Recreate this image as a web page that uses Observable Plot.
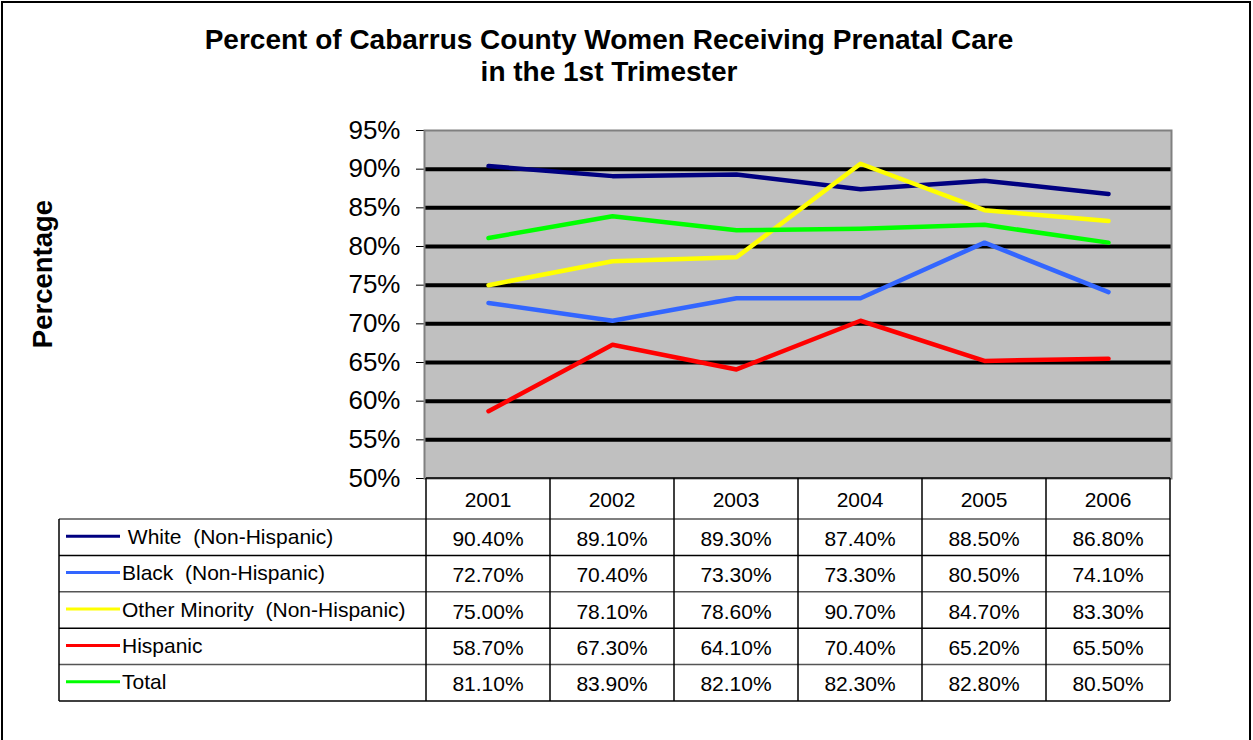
<!DOCTYPE html>
<html><head><meta charset="utf-8">
<script src="https://cdn.jsdelivr.net/npm/d3@7"></script>
<script src="https://cdn.jsdelivr.net/npm/@observablehq/plot@0.6"></script>
<style>
body{margin:0;background:#fff;}
#wrap{position:relative;width:1253px;height:740px;overflow:hidden;font-family:"Liberation Sans",Arial,sans-serif;background:#fff;}
#border{position:absolute;left:1px;top:1px;width:1250px;height:780px;border:2px solid #000;box-sizing:border-box;}
#title{position:absolute;left:0;top:24px;width:1218px;text-align:center;font-weight:bold;font-size:28px;line-height:32px;color:#000;}
#chart{position:absolute;left:0;top:0;}
</style></head><body>
<div id="wrap"><div id="border"></div><div id="chart"></div><div id="title">Percent of Cabarrus County Women Receiving Prenatal Care<br>in the 1st Trimester</div></div>
<script>
const years = ["2001", "2002", "2003", "2004", "2005", "2006"];
const seriesNames = [" White  (Non-Hispanic)", "Black  (Non-Hispanic)", "Other Minority  (Non-Hispanic)", "Hispanic", "Total"];
const white = [90.4, 89.1, 89.3, 87.4, 88.5, 86.8];
const black = [72.7, 70.4, 73.3, 73.3, 80.5, 74.1];
const other = [75.0, 78.1, 78.6, 90.7, 84.7, 83.3];
const hispanic = [58.7, 67.3, 64.1, 70.4, 65.2, 65.5];
const total = [81.1, 83.9, 82.1, 82.3, 82.8, 80.5];
const yTicks = [50, 55, 60, 65, 70, 75, 80, 85, 90, 95];
const gridTicks = [55, 60, 65, 70, 75, 80, 85, 90];
const yLabel = "Percentage";

const seriesValues = [white, black, other, hispanic, total];
const colors = ["#000080", "#3366FF", "#FFFF00", "#FF0000", "#00FF00"];
const data = seriesNames.flatMap((s, i) => years.map((y, j) => ({series: s, year: y, value: seriesValues[i][j]})));

const W = 1253, H = 740, mT = 130, mB = 262, mL = 424, mR = 82;
const FONT = '"Liberation Sans", Arial, sans-serif';

const plot = Plot.plot({
  width: W, height: H, marginTop: mT, marginBottom: mB, marginLeft: mL, marginRight: mR,
  style: {fontFamily: FONT, fontSize: "26px", background: "transparent", color: "#000", overflow: "visible"},
  x: {type: "point", domain: years, padding: 0.5, axis: null},
  y: {domain: [50, 95], ticks: yTicks, tickFormat: d => d + "%", tickSize: 8, tickPadding: 16, label: null},
  color: {domain: seriesNames, range: colors},
  marks: [
    Plot.frame({fill: "#C0C0C0"}),
    Plot.ruleY(gridTicks, {stroke: "#000", strokeWidth: 4}),
    Plot.frame({stroke: "#808080", strokeWidth: 2}),
    Plot.line(data, {x: "year", y: "value", z: "series", stroke: "series", strokeWidth: 4.5, strokeLinecap: "round", strokeLinejoin: "round"})
  ]
});
document.getElementById("chart").appendChild(plot);

const svg = d3.select(plot);
// y-axis title
svg.append("text")
  .attr("transform", "translate(42,274) rotate(-90)")
  .attr("text-anchor", "middle").attr("dominant-baseline", "central")
  .attr("font-weight", "bold").attr("font-size", 27.5).attr("font-family", FONT)
  .attr("fill", "#000").text(yLabel);

// data table built from Plot's x scale
const xs = plot.scale("x");
const cx = years.map(y => xs.apply(y));
const step = cx[1] - cx[0];
const colLeft = cx[0] - step / 2, colRight = cx[cx.length - 1] + step / 2;
const tableTop = H - mB;           // bottom of plot frame
const headerBottom = tableTop + 41;
const rowH = 36.4;
const tableLeft = 59;
const rowTops = seriesNames.map((_, i) => headerBottom + i * rowH);
const tableBottom = headerBottom + seriesNames.length * rowH;
const g = svg.append("g").attr("font-family", FONT).attr("font-size", 21).attr("fill", "#000");

// header years
g.selectAll("text.yr").data(years).join("text").attr("class", "yr")
  .attr("x", (d, i) => cx[i]).attr("y", (tableTop + headerBottom) / 2 + 1)
  .attr("text-anchor", "middle").attr("dominant-baseline", "central").text(d => d);

// horizontal lines
const hLines = [headerBottom, ...rowTops.slice(1), tableBottom];
g.selectAll("line.h").data(hLines).join("line").attr("class", "h")
  .attr("x1", tableLeft).attr("x2", colRight).attr("y1", d => d).attr("y2", d => d)
  .attr("stroke", (d, i) => i % 2 ? "#000" : "#555").attr("stroke-width", 1.5);
g.append("line").attr("x1", colLeft).attr("x2", colRight).attr("y1", tableTop).attr("y2", tableTop)
  .attr("stroke", "#000").attr("stroke-width", 1.5);
// vertical lines
const vx = [colLeft, ...cx.map(c => c + step / 2)];
g.selectAll("line.v").data(vx).join("line").attr("class", "v")
  .attr("x1", d => d).attr("x2", d => d).attr("y1", tableTop).attr("y2", tableBottom)
  .attr("stroke", "#000").attr("stroke-width", 1.5);
g.append("line").attr("x1", tableLeft).attr("x2", tableLeft).attr("y1", headerBottom).attr("y2", tableBottom)
  .attr("stroke", "#000").attr("stroke-width", 1.5);

// rows
seriesNames.forEach((s, i) => {
  const yc = rowTops[i] + rowH / 2;
  g.append("line").attr("x1", 66).attr("x2", 120).attr("y1", yc - 1).attr("y2", yc - 1)
    .attr("stroke", colors[i]).attr("stroke-width", 3);
  g.append("text").attr("x", 122).attr("y", yc - 1).attr("text-anchor", "start").attr("dominant-baseline", "central")
    .style("white-space", "pre").text(s);
  g.selectAll(null).data(seriesValues[i]).join("text")
    .attr("x", (d, j) => cx[j]).attr("y", yc + 1).attr("text-anchor", "middle").attr("dominant-baseline", "central")
    .text(d => d.toFixed(2) + "%");
});
</script>
</body></html>
